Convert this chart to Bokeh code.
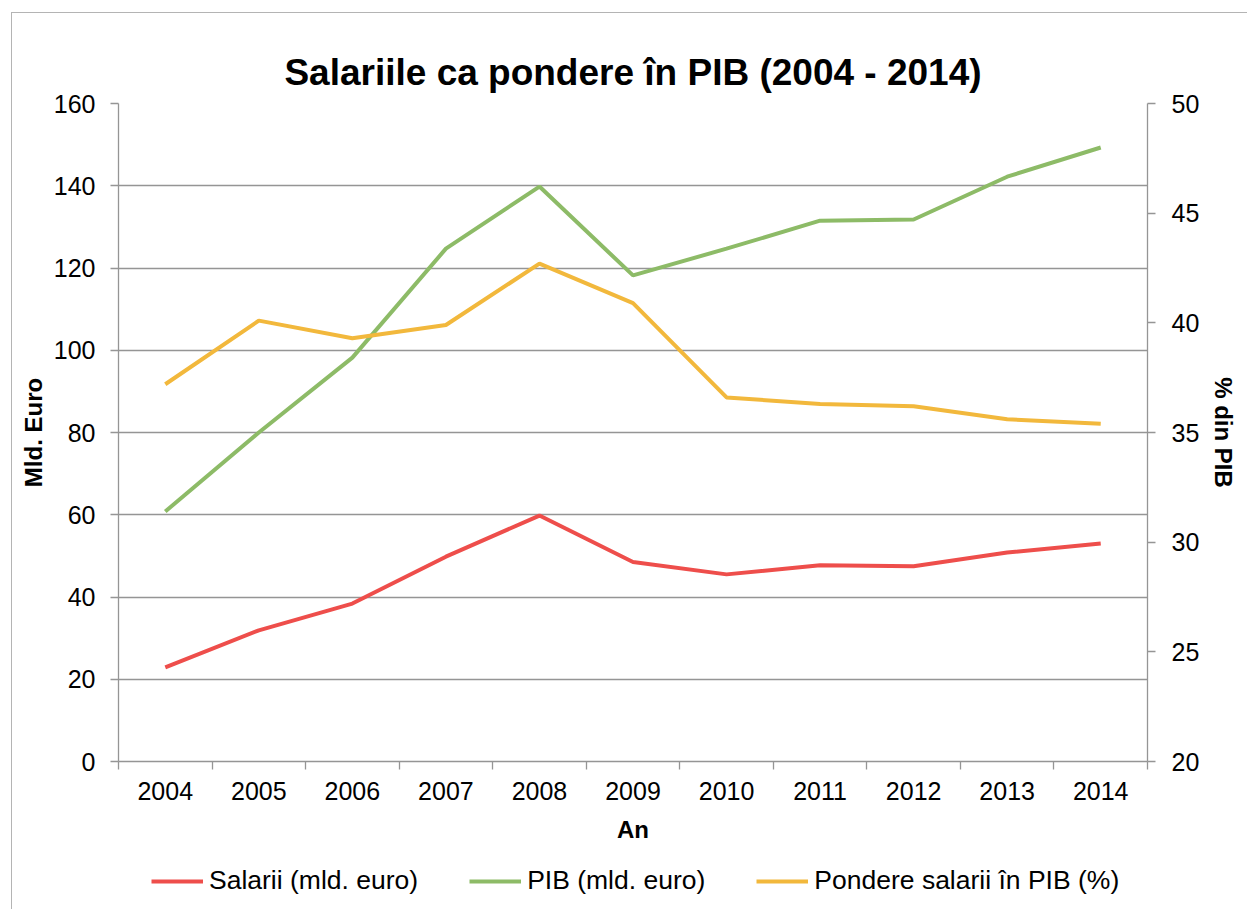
from bokeh.plotting import figure
from bokeh.layouts import column
from bokeh.models import (Range1d, LinearAxis, FixedTicker, SingleIntervalTicker,
                          Legend, LegendItem, ColumnDataSource)
from bokeh.embed import file_html
from bokeh.resources import INLINE

years = ["2004", "2005", "2006", "2007", "2008", "2009", "2010", "2011", "2012", "2013", "2014"]
salarii = [22.9, 31.9, 38.4, 49.8, 59.8, 48.5, 45.5, 47.7, 47.5, 50.8, 53.0]
pib = [60.8, 80.0, 98.2, 124.7, 139.8, 118.2, 124.7, 131.5, 131.8, 142.2, 149.3]
pondere = [37.2, 40.1, 39.3, 39.9, 42.7, 40.9, 36.6, 36.3, 36.2, 35.6, 35.4]
series_labels = ["Salarii (mld. euro)", "PIB (mld. euro)", "Pondere salarii în PIB (%)"]

FONT = "Liberation Sans"
GRAY = "#959595"
RED = "#EE4E4B"
GREEN = "#8DBB67"
YELLOW = "#F2B83C"
LW = 4

xpos = [i + 0.5 for i in range(len(years))]
src = ColumnDataSource(dict(x=xpos, salarii=salarii, pib=pib, pondere=pondere))

p = figure(frame_width=1029, frame_height=658, output_backend="svg", toolbar_location=None,
           x_range=Range1d(0, len(years)), y_range=Range1d(0, 160),
           min_border_left=106, min_border_right=100, min_border_top=90, min_border_bottom=96)
p.extra_y_ranges = {"pct": Range1d(20, 50)}

p.outline_line_color = None
p.background_fill_color = "white"
p.border_fill_color = "white"

# title
p.title.text = "Salariile ca pondere în PIB (2004 - 2014)"
p.title.align = "center"
p.title.text_font = FONT
p.title.text_font_size = "37px"
p.title.text_font_style = "bold"
p.title.text_color = "black"
p.title.standoff = 22

# x axis
xa = p.xaxis[0]
xa.ticker = FixedTicker(ticks=xpos, minor_ticks=list(range(len(years) + 1)))
xa.major_label_overrides = {x: y for x, y in zip(xpos, years)}
xa.major_tick_line_color = None
xa.major_tick_out = 8
xa.minor_tick_in = 0
xa.minor_tick_out = 8
xa.minor_tick_line_color = GRAY
xa.minor_tick_line_width = 1.3
xa.axis_line_color = GRAY
xa.axis_line_width = 1.3
xa.major_label_text_font = FONT
xa.major_label_text_font_size = "25px"
xa.major_label_text_color = "black"
xa.major_label_standoff = 12
xa.axis_label = "An"
xa.axis_label_text_font = FONT
xa.axis_label_text_font_size = "24px"
xa.axis_label_text_font_style = "bold"
xa.axis_label_text_color = "black"
xa.axis_label_standoff = 13

# left y axis
ya = p.yaxis[0]
ya.ticker = SingleIntervalTicker(interval=20, num_minor_ticks=0)
ya.major_tick_in = 0
ya.major_tick_out = 8
ya.major_tick_line_color = GRAY
ya.major_tick_line_width = 1.3
ya.minor_tick_line_color = None
ya.axis_line_color = GRAY
ya.axis_line_width = 1.3
ya.major_label_text_font = FONT
ya.major_label_text_font_size = "25px"
ya.major_label_text_color = "black"
ya.major_label_standoff = 15
ya.axis_label = "Mld. Euro"
ya.axis_label_text_font = FONT
ya.axis_label_text_font_size = "24px"
ya.axis_label_text_font_style = "bold"
ya.axis_label_text_color = "black"
ya.axis_label_standoff = 4

# right y axis
ra = LinearAxis(y_range_name="pct", ticker=SingleIntervalTicker(interval=5, num_minor_ticks=0))
ra.major_tick_in = 0
ra.major_tick_out = 8
ra.major_tick_line_color = GRAY
ra.major_tick_line_width = 1.3
ra.minor_tick_line_color = None
ra.axis_line_color = GRAY
ra.axis_line_width = 1.3
ra.major_label_text_font = FONT
ra.major_label_text_font_size = "25px"
ra.major_label_text_color = "black"
ra.major_label_standoff = 16
ra.axis_label = "% din PIB"
ra.axis_label_text_font = FONT
ra.axis_label_text_font_size = "24px"
ra.axis_label_text_font_style = "bold"
ra.axis_label_text_color = "black"
ra.axis_label_standoff = 8
p.add_layout(ra, "right")

# grid
p.xgrid.grid_line_color = None
p.ygrid.ticker = SingleIntervalTicker(interval=20)
p.ygrid.grid_line_color = GRAY
p.ygrid.grid_line_width = 1.3

p.line("x", "salarii", source=src, line_color=RED, line_width=LW)
p.line("x", "pib", source=src, line_color=GREEN, line_width=LW)
p.line("x", "pondere", source=src, line_color=YELLOW, line_width=LW, y_range_name="pct")

# legend strip below the chart (its lines lie outside its own view)
pl = figure(width=1235, height=52, output_backend="svg", toolbar_location=None,
            x_range=Range1d(-100, -99), y_range=Range1d(-100, -99), min_border=0)
pl.axis.visible = False
pl.grid.visible = False
pl.outline_line_color = None
pl.background_fill_color = "white"
pl.border_fill_color = "white"
l1 = pl.line("x", "salarii", source=src, line_color=RED, line_width=LW)
l2 = pl.line("x", "pib", source=src, line_color=GREEN, line_width=LW)
l3 = pl.line("x", "pondere", source=src, line_color=YELLOW, line_width=LW)

legend = Legend(items=[LegendItem(label=series_labels[0], renderers=[l1]),
                       LegendItem(label=series_labels[1], renderers=[l2]),
                       LegendItem(label=series_labels[2], renderers=[l3])],
                orientation="horizontal", location=(33, 13),
                label_text_font=FONT, label_text_font_size="26.5px", label_text_color="black",
                glyph_width=52, label_standoff=6, spacing=51,
                border_line_color=None, background_fill_alpha=0, margin=0, padding=2)
pl.add_layout(legend, "center")

layout = column(p, pl, spacing=0,
                styles={"margin-left": "11px", "margin-top": "12px",
                        "border-left": "1px solid #b4b4b4", "border-top": "1px solid #b4b4b4"})

open("out.html", "w").write(file_html(layout, INLINE))
